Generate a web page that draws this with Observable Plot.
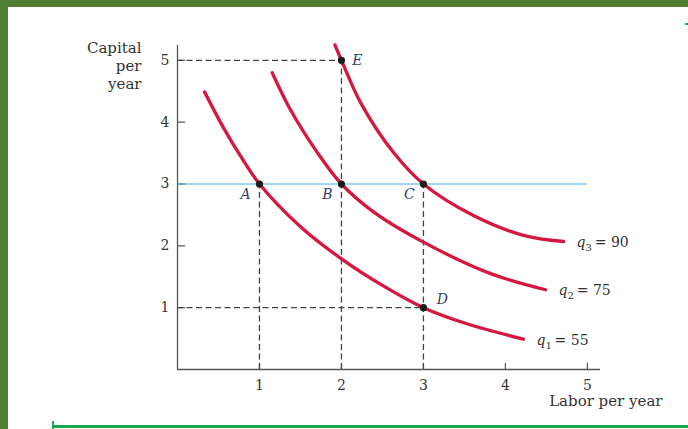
<!DOCTYPE html>
<html>
<head>
<meta charset="utf-8">
<script src="https://cdn.jsdelivr.net/npm/d3@7"></script>
<script src="https://cdn.jsdelivr.net/npm/@observablehq/plot@0.6"></script>
<style>
  html, body { margin: 0; padding: 0; background: #fff; }
  #wrap { position: relative; width: 688px; height: 429px; overflow: hidden; background: #fff; }
  #wrap svg { position: absolute; left: 0; top: 0; }
  .band { position: absolute; }
</style>
</head>
<body>
<div id="wrap">
  <div class="band" style="left:0;top:0;width:688px;height:7px;background:#527f34"></div>
  <div class="band" style="left:0;top:0;width:8px;height:429px;background:#527f34"></div>
  <div class="band" style="left:52px;top:425px;width:636px;height:3px;background:#16a84c"></div>
  <div class="band" style="left:52px;top:421px;width:2px;height:8px;background:#16a84c"></div>
  <div class="band" style="left:685px;top:23px;width:3px;height:2px;background:#16a84c"></div>
</div>
<script>
// Axis ticks
const xTicks = [1, 2, 3, 4, 5];
const yTicks = [1, 2, 3, 4, 5];

// Isoquants: labor (x) and capital (y) along each curve
const outputLevels = [55, 75, 90];
const q1Labor   = [0.33, 0.565, 0.77, 1, 1.5, 2, 2.5, 3, 3.53, 4.22];
const q1Capital = [4.49, 3.9, 3.45, 3, 2.31, 1.79, 1.36, 1, 0.74, 0.49];
const q2Labor   = [1.155, 1.378, 1.7, 2, 2.39, 3, 3.82, 4.49];
const q2Capital = [4.8, 4.2, 3.52, 3, 2.55, 2.06, 1.55, 1.29];
const q3Labor   = [1.92, 2, 2.24, 2.64, 3, 3.61, 4.22, 4.71];
const q3Capital = [5.25, 5, 4.3, 3.5, 3, 2.49, 2.17, 2.07];

// Labelled input combinations
const pointNames   = ["A", "B", "C", "D", "E"];
const pointLabor   = [1, 2, 3, 3, 2];
const pointCapital = [3, 3, 3, 1, 5];

// Capital held fixed in the short run
const fixedCapital = 3;
const fixedCapitalMaxLabor = 5;

const yTitle = "Capital\nper\nyear";
const xTitle = "Labor per year";

// Build tidy tables for the marks
const curves = [
  {level: outputLevels[0], idx: 1, L: q1Labor, K: q1Capital},
  {level: outputLevels[1], idx: 2, L: q2Labor, K: q2Capital},
  {level: outputLevels[2], idx: 3, L: q3Labor, K: q3Capital}
];
const curveRows = curves.flatMap(c => c.L.map((l, i) => ({q: c.idx, L: l, K: c.K[i]})));
const curveEnds = curves.map(c => ({
  label: `q${c.idx} = ${c.level}`,
  L: c.L[c.L.length - 1],
  K: c.K[c.K.length - 1]
}));
const points = pointNames.map((name, i) => ({name, L: pointLabor[i], K: pointCapital[i]}));
const byName = names => points.filter(d => names.includes(d.name));

const red = "#d6173f";
const ink = "#333";
const dash = {stroke: "#444", strokeWidth: 1.3, strokeDasharray: "6,3.5"};
const serif = "'DejaVu Serif', 'Liberation Serif', serif";

const chart = Plot.plot({
  width: 688,
  height: 429,
  marginLeft: 177,
  marginRight: 88,
  marginTop: 45,
  marginBottom: 60,
  x: {domain: [0, 5.16]},
  y: {domain: [0, 5.24]},
  style: {fontFamily: serif, fontSize: "14px", color: ink, background: "transparent", overflow: "visible"},
  marks: [
    Plot.axisX({ticks: xTicks, tickSize: 0, tickPadding: 11, label: null, tickFormat: d => d, fontSize: 14}),
    Plot.axisY({ticks: yTicks, tickSize: 0, tickPadding: 8, label: null, tickFormat: d => d, fontSize: 14}),

    // axis lines and inward tick marks
    Plot.ruleY([0], {stroke: "#555", strokeWidth: 1.3}),
    Plot.ruleX([0], {stroke: "#555", strokeWidth: 1.3}),
    Plot.ruleX(xTicks, {y1: 0, y2: 0.1, stroke: "#555", strokeWidth: 1.2}),
    Plot.ruleY(yTicks, {x1: 0, x2: 0.1, stroke: "#555", strokeWidth: 1.2}),

    // fixed capital line
    Plot.ruleY([fixedCapital], {x1: 0, x2: fixedCapitalMaxLabor, stroke: "#3fb0e0", strokeWidth: 1.2}),

    // dashed guides
    Plot.ruleX(byName(["A", "C", "E"]), {x: "L", y1: 0, y2: "K", ...dash}),
    Plot.ruleY(byName(["D", "E"]), {y: "K", x1: 0, x2: "L", ...dash}),

    // isoquants
    Plot.line(curveRows, {x: "L", y: "K", z: "q", stroke: red, strokeWidth: 3.3, curve: "catmull-rom"}),

    // points
    Plot.dot(points, {x: "L", y: "K", r: 3.6, fill: "#1b1b1b"}),

    // point letters
    Plot.text(byName(["A", "B", "C"]), {x: "L", y: "K", text: "name", dx: -14, dy: 11, fontStyle: "italic", fontSize: 14, fill: "#34406a"}),
    Plot.text(byName(["D"]), {x: "L", y: "K", text: "name", dx: 19, dy: -8, fontStyle: "italic", fontSize: 14, fill: "#34406a"}),
    Plot.text(byName(["E"]), {x: "L", y: "K", text: "name", dx: 16, dy: 0, fontStyle: "italic", fontSize: 14, fill: "#34406a"}),

    // isoquant labels
    Plot.text(curveEnds, {x: "L", y: "K", text: "label", dx: 13, dy: 1, textAnchor: "start", fontSize: 14, fill: ink}),

    // axis titles
    Plot.text([yTitle], {frameAnchor: "top-left", text: d => d, textAnchor: "end", lineAnchor: "top", dx: -36, dy: -5, lineHeight: 1.2, fontSize: 15, fill: ink}),
    Plot.text([xTitle], {frameAnchor: "bottom-right", text: d => d, textAnchor: "end", lineAnchor: "middle", dx: 62, dy: 32, fontSize: 15, fill: ink})
  ]
});

// Typeset the isoquant labels as italic q with a subscript index
d3.select(chart).selectAll("text")
  .filter(function () { return /^q\d = /.test(this.textContent); })
  .each(function () {
    const m = this.textContent.match(/^q(\d) (= .*)$/);
    const t = d3.select(this).text(null);
    t.append("tspan").attr("font-style", "italic").text("q");
    t.append("tspan").attr("font-size", 10).attr("dy", 4).text(m[1]);
    t.append("tspan").attr("dy", -4).text("\u2009" + m[2]);
  });

document.getElementById("wrap").appendChild(chart);
</script>
</body>
</html>
